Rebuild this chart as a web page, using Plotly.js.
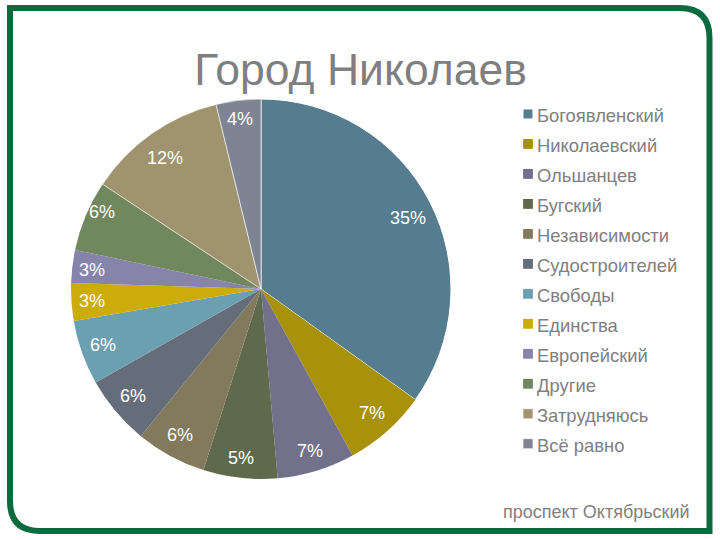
<!DOCTYPE html>
<html><head><meta charset="utf-8">
<script src="https://cdn.plot.ly/plotly-3.0.1.min.js"></script>
<style>
html,body{margin:0;padding:0;background:#fff}
#c{width:720px;height:540px}
.legend .legendpie{transform:translate(31px,0) scale(.82)}
</style></head><body><div id="c"></div>
<script>
const categories=["Богоявленский","Николаевский","Ольшанцев","Бугский","Независимости","Судостроителей","Свободы","Единства","Европейский","Другие","Затрудняюсь","Всё равно"];
const sliceValues=[34.9,7.1,6.6,6.3,6.0,5.9,5.5,3.2,2.8,6.0,11.9,3.8];
const sliceLabels=["35%","7%","7%","5%","6%","6%","6%","3%","3%","6%","12%","4%"];
const sliceColors=["#557D8F","#A8920B","#72708A","#5E6A4B","#837A5E","#666D7A","#6BA0B0","#CCAC0A","#8784AB","#71875E","#A0946F","#7F8494"];
const lineWidths=[1,0,0,0,0,0,0,0,0,0,0.6,0.6];
const W=720,H=540;
const px=x=>x/W, py=y=>1-y/H;
const f='"Liberation Sans", Arial, sans-serif';
const labelAnchors=[[408,218],[372,413],[310,451],[241,458],[180,435],[133,396],[103,345],[92,301],[92,270],[102,212],[165,158],[240,119]];
const framePath=()=>{
 const l=10,t=8,r=709.5,b=531,R=30;
 return `M${px(l)},${py(t)} L${px(r-R)},${py(t)} Q${px(r)},${py(t)} ${px(r)},${py(t+R)} L${px(r)},${py(b)} L${px(l+R)},${py(b)} Q${px(l)},${py(b)} ${px(l)},${py(b-R)} Z`;
};
Plotly.newPlot('c',[{
 type:'pie',sort:false,direction:'clockwise',rotation:0,
 labels:categories.map(c=>`<span style="font-size:18.4px">${c}</span>`),
 values:sliceValues,textinfo:'none',
 marker:{colors:sliceColors,line:{color:'#fff',width:lineWidths}},
 domain:{x:[71/W,451/W],y:[1-479/H,1-99/H]},
 hoverinfo:'skip'
}],{
 width:W,height:H,margin:{l:0,r:0,t:0,b:0},paper_bgcolor:'#fff',
 title:{text:"Город Николаев",x:360.5/W,xanchor:'center',y:1-69/H,yanchor:'middle',font:{family:f,size:44.5,color:'#7f7f7f'}},
 legend:{x:497/W,xanchor:'left',y:1-94/H,yanchor:'top',font:{family:f,size:20.75,color:'#7f7f7f'},traceorder:'normal',bgcolor:'rgba(0,0,0,0)'},
 shapes:[{type:'path',xref:'paper',yref:'paper',path:framePath(),line:{color:'#0B6B3F',width:6},layer:'above'}],
 annotations:[
  {text:"проспект Октябрьский",xref:'paper',yref:'paper',x:596/W,y:1-512/H,xanchor:'center',yanchor:'middle',showarrow:false,font:{family:f,size:18,color:'#7f7f7f'}},
  ...sliceLabels.map((t,i)=>({text:t,xref:'paper',yref:'paper',x:px(labelAnchors[i][0]),y:py(labelAnchors[i][1]),xanchor:'center',yanchor:'middle',showarrow:false,font:{family:f,size:18,color:'#fff'}}))
 ]
},{staticPlot:true,displayModeBar:false});
</script></body></html>
